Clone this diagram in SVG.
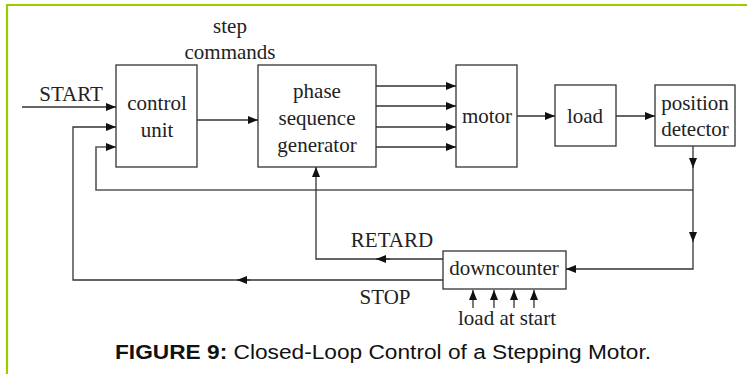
<svg xmlns="http://www.w3.org/2000/svg" width="747" height="374" viewBox="0 0 747 374">
<defs>
<style>
.box{fill:#fff;stroke:#333;stroke-width:1.3}
.t{font-family:"Liberation Serif","Times New Roman",serif;font-size:21px;fill:#222;text-anchor:middle}
.w{fill:none;stroke:#333;stroke-width:1.3}
.g{fill:none;stroke:#555;stroke-width:1.6}
.cap{font-family:"Liberation Sans",Arial,sans-serif;font-size:20px;fill:#111}
</style>
<marker id="ah" viewBox="0 0 10 10" refX="10" refY="5" markerWidth="10" markerHeight="10" markerUnits="userSpaceOnUse" orient="auto">
<path d="M0,1 L10,5 L0,9 Z" fill="#111"/>
</marker>
</defs>
<rect width="747" height="374" fill="#fff"/>
<g id="frame">
<line x1="6" y1="5" x2="747" y2="5" stroke="#99cc00" stroke-width="2.2"/>
<line x1="7" y1="4" x2="7" y2="374" stroke="#99cc00" stroke-width="2.2"/>
</g>
<g id="control-unit">
<rect class="box" x="116" y="65" width="81" height="102"/>
<text class="t" x="157" y="110">control</text>
<text class="t" x="157" y="137">unit</text>
</g>
<g id="phase-sequence-generator">
<rect class="box" x="258" y="65" width="118" height="102"/>
<text class="t" x="317" y="98">phase</text>
<text class="t" x="317" y="125">sequence</text>
<text class="t" x="317" y="152">generator</text>
</g>
<g id="motor">
<rect class="box" x="456" y="65" width="61" height="102"/>
<text class="t" x="487" y="123">motor</text>
</g>
<g id="load">
<rect class="box" x="555" y="85" width="61" height="61"/>
<text class="t" x="585" y="123">load</text>
</g>
<g id="position-detector">
<rect class="box" x="655" y="85" width="80" height="61"/>
<text class="t" x="695" y="110">position</text>
<text class="t" x="695" y="136">detector</text>
</g>
<g id="downcounter">
<rect class="box" x="443" y="251" width="123" height="38"/>
<text class="t" x="504" y="275">downcounter</text>
</g>
<g id="connectors">
<line class="w" x1="22" y1="107" x2="116" y2="107" marker-end="url(#ah)"/>
<polyline class="w" points="443,280 73,280 73,127 116,127" marker-end="url(#ah)"/>
<line class="w" x1="250" y1="280" x2="237" y2="280" marker-end="url(#ah)"/>
<polyline class="g" points="693,190 96,190 96,147 116,147" marker-end="url(#ah)"/>
<line class="w" x1="197" y1="120" x2="258" y2="120" marker-end="url(#ah)"/>
<line class="w" x1="376" y1="86" x2="456" y2="86" marker-end="url(#ah)"/>
<line class="w" x1="376" y1="106" x2="456" y2="106" marker-end="url(#ah)"/>
<line class="w" x1="376" y1="127" x2="456" y2="127" marker-end="url(#ah)"/>
<line class="w" x1="376" y1="147" x2="456" y2="147" marker-end="url(#ah)"/>
<line class="w" x1="517" y1="116" x2="555" y2="116" marker-end="url(#ah)"/>
<line class="w" x1="616" y1="116" x2="655" y2="116" marker-end="url(#ah)"/>
<line class="w" x1="693" y1="146" x2="693" y2="168" marker-end="url(#ah)"/>
<line class="w" x1="693" y1="166" x2="693" y2="242" marker-end="url(#ah)"/>
<polyline class="w" points="693,240 693,269 566,269" marker-end="url(#ah)"/>
<polyline class="w" points="443,259 316,259 316,167" marker-end="url(#ah)"/>
<line class="w" x1="390" y1="259" x2="376" y2="259" marker-end="url(#ah)"/>
<line class="w" x1="473" y1="308" x2="473" y2="290" marker-end="url(#ah)"/>
<line class="w" x1="494" y1="308" x2="494" y2="290" marker-end="url(#ah)"/>
<line class="w" x1="514" y1="308" x2="514" y2="290" marker-end="url(#ah)"/>
<line class="w" x1="534" y1="308" x2="534" y2="290" marker-end="url(#ah)"/>
</g>
<g id="labels">
<text class="t" x="71" y="101">START</text>
<text class="t" x="230" y="33">step</text>
<text class="t" x="230" y="59">commands</text>
<text class="t" x="392" y="247">RETARD</text>
<text class="t" x="385" y="304">STOP</text>
<text class="t" x="507" y="325">load at start</text>
</g>
<text class="cap" x="115" y="359" textLength="536" lengthAdjust="spacingAndGlyphs"><tspan font-weight="bold">FIGURE 9:</tspan> Closed-Loop Control of a Stepping Motor.</text>
</svg>
